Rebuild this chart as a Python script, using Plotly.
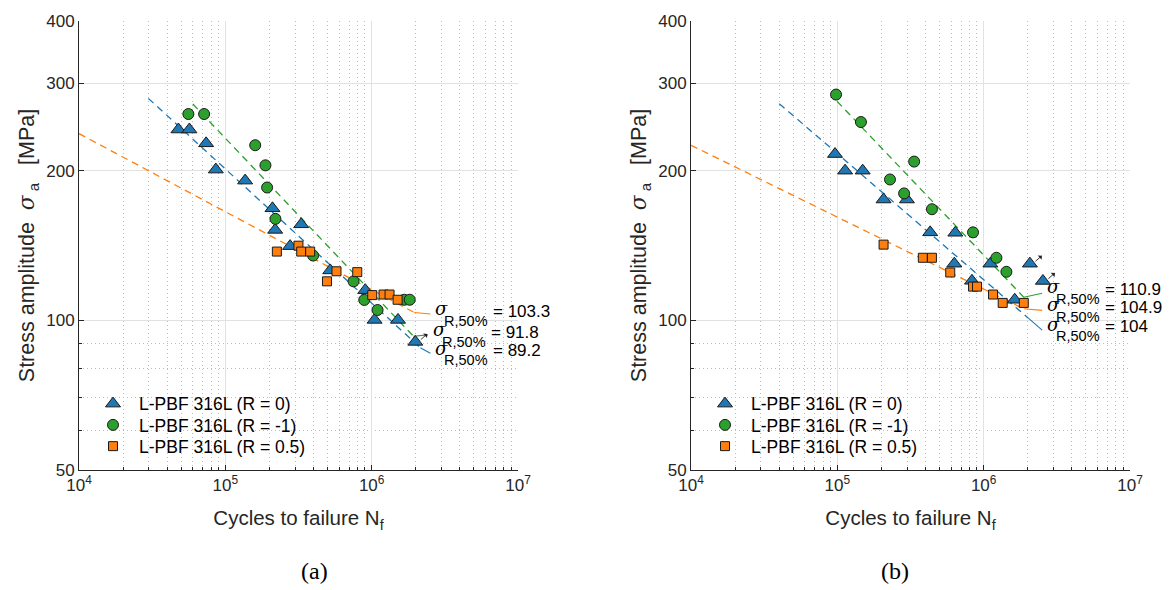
import numpy as np
import plotly.graph_objects as go

# ---------------- data: panel (a) ----------------
a_r0_N = [47.8e3, 56.8e3, 73.9e3, 86.1e3, 136.6e3, 210e3, 219e3, 330e3, 277e3, 521e3, 904e3, 1.047e6, 1.513e6, 1.987e6]
a_r0_S = [242, 242, 227, 201, 191, 168, 152, 156, 141, 126, 115, 100.2, 100.2, 90.5]
a_r0_runout = [False] * 13 + [True]

a_rm1_N = [55.9e3, 71.6e3, 160e3, 188e3, 193e3, 220e3, 398e3, 752e3, 890e3, 1.097e6, 1.67e6, 1.82e6]
a_rm1_S = [260, 260, 225, 205, 185, 160, 135, 119.8, 109.9, 104.9, 110, 110]

a_r05_N = [225e3, 316e3, 330e3, 380e3, 495e3, 575e3, 797e3, 1.009e6, 1.206e6, 1.325e6, 1.504e6]
a_r05_S = [137.5, 141.3, 137.5, 137.5, 119.8, 125.5, 125, 112.4, 112.7, 112.7, 110]

# fitted lines (start, end of dashed part, end of leader) : N and S
a_fit_r0_N = [29.8e3, 2.15e6, 2.52e6]
a_fit_r0_S = [279.5, 88.1, 85.9]
a_fit_rm1_N = [60e3, 1.93e6, 2.42e6]
a_fit_rm1_S = [272.3, 92.9, 93.5]
a_fit_r05_N = [1e4, 1.955e6, 2.52e6]
a_fit_r05_S = [237.4, 103.7, 103.0]
a_labels = ["89.2", "91.8", "103.3"]  # R=0, R=-1, R=0.5

# ---------------- data: panel (b) ----------------
b_r0_N = [96.4e3, 113e3, 149e3, 207e3, 299e3, 431e3, 640e3, 630e3, 1.111e6, 2.07e6, 832e3, 2.54e6, 1.63e6]
b_r0_S = [216, 200, 200, 175, 175, 150.3, 150, 130, 130, 130, 120.1, 120, 110]
b_r0_runout = [False] * 9 + [True, False, True, False]

b_rm1_N = [98e3, 145e3, 335e3, 229e3, 286e3, 443e3, 846e3, 1.222e6, 1.43e6]
b_rm1_S = [284.5, 250.5, 208.6, 192, 180, 167.3, 150.3, 133.6, 125.2]

b_r05_N = [207e3, 384e3, 443e3, 591e3, 846e3, 901e3, 1.159e6, 1.349e6, 1.88e6]
b_r05_S = [142, 133.6, 133.6, 124.8, 116.9, 116.9, 112.7, 108.4, 108.4]

b_fit_r0_N = [40.1e3, 2.02e6, 2.51e6]
b_fit_r0_S = [272.8, 101.0, 95.6]
b_fit_rm1_N = [99.5e3, 1.88e6, 2.51e6]
b_fit_rm1_S = [275.8, 111.3, 113.4]
b_fit_r05_N = [1e4, 1.88e6, 2.51e6]
b_fit_r05_S = [225.0, 105.5, 104.7]
b_labels = ["104", "110.9", "104.9"]

series_names = ["L-PBF 316L (R = 0)", "L-PBF 316L (R = -1)", "L-PBF 316L (R = 0.5)"]
x_tickvals = [1e4, 1e5, 1e6, 1e7]
x_ticktext = ["10<sup>4</sup>", "10<sup>5</sup>", "10<sup>6</sup>", "10<sup>7</sup>"]
y_tickvals = [50, 100, 200, 300, 400]
y_minor = [60, 70, 80, 90]
x_minor = [m * 10 ** e for e in (4, 5, 6) for m in range(2, 10)]

# ---------------- styling ----------------
BLUE, GREEN, ORANGE = "#1f77b4", "#2ca02c", "#ff7f0e"
FONT = "Liberation Sans, Arial, sans-serif"
SERIF_IT = "DejaVu Serif, serif"
TXT = "#262626"
GRID = "#e2e2e2"
MINOR = "#bdbdbd"
SIG = "<span style=\"font-family:'DejaVu Serif';font-style:italic\">σ</span>"
NB = "\u00a0"

W, H = 1170, 590
L, R, T, B = 79, 40, 16, 120
pw = W - L - R
ph = H - T - B
dom1 = [0, 439 / pw]
dom2 = [(691 - L) / pw, 1]

fig = go.Figure()

panels = [
    dict(xa="x", ya="y", legs=["legend", "legend2", "legend3"], lx=113,
         data=[(a_r0_N, a_r0_S, "triangle-up", BLUE, 13),
               (a_rm1_N, a_rm1_S, "circle", GREEN, 11),
               (a_r05_N, a_r05_S, "square", ORANGE, 9)],
         fits=[(a_fit_r0_N, a_fit_r0_S, BLUE), (a_fit_rm1_N, a_fit_rm1_S, GREEN),
               (a_fit_r05_N, a_fit_r05_S, ORANGE)],
         labels=a_labels, runN=a_r0_N, runS=a_r0_S, runF=a_r0_runout, lab_dy=[0, 0, 0]),
    dict(xa="x2", ya="y2", legs=["legend4", "legend5", "legend6"], lx=725,
         data=[(b_r0_N, b_r0_S, "triangle-up", BLUE, 13),
               (b_rm1_N, b_rm1_S, "circle", GREEN, 11),
               (b_r05_N, b_r05_S, "square", ORANGE, 9)],
         fits=[(b_fit_r0_N, b_fit_r0_S, BLUE), (b_fit_rm1_N, b_fit_rm1_S, GREEN),
               (b_fit_r05_N, b_fit_r05_S, ORANGE)],
         labels=b_labels, runN=b_r0_N, runS=b_r0_S, runF=b_r0_runout, lab_dy=[1, 1.5, 0.5]),
]

legend_rows_px = [403, 424.5, 446]
legends = {}
annotations = []
for p in panels:
    for (fn, fs, col) in p["fits"]:
        fig.add_trace(go.Scatter(x=fn[:2], y=fs[:2], mode="lines", xaxis=p["xa"], yaxis=p["ya"],
                                 line=dict(color=col, width=1.3, dash="7px,5px"),
                                 showlegend=False, hoverinfo="skip"))
        fig.add_trace(go.Scatter(x=fn[1:], y=fs[1:], mode="lines", xaxis=p["xa"], yaxis=p["ya"],
                                 line=dict(color=col, width=1.1),
                                 showlegend=False, hoverinfo="skip"))
    for (n, s, sym, col, sz), name, lg, rowpx in zip(p["data"], series_names, p["legs"], legend_rows_px):
        fig.add_trace(go.Scatter(x=n, y=s, mode="markers", name=name, xaxis=p["xa"], yaxis=p["ya"],
                                 legend=lg,
                                 marker=dict(symbol=sym, color=col, size=sz,
                                             line=dict(color="#1a1a1a", width=1))))
        legends[lg] = dict(x=(p["lx"] - 26 - L) / pw, y=(H - B - rowpx) / ph,
                           xanchor="left", yanchor="middle", itemwidth=42,
                           bgcolor="rgba(255,255,255,0)",
                           font=dict(family=FONT, size=17.5, color="#000"))
    for (fn, fs, col), lab, dy in zip(p["fits"], p["labels"], p["lab_dy"]):
        base = dict(x=np.log10(fn[-1]), y=np.log10(fs[-1]), xref=p["xa"], yref=p["ya"],
                    showarrow=False, xanchor="left", yanchor="middle")
        annotations.append(dict(base, text="<i>σ</i>", xshift=3, yshift=5 + dy,
                                font=dict(family=SERIF_IT, size=18, color="#000")))
        annotations.append(dict(base, text="R,50%", xshift=12, yshift=-7 + dy,
                                font=dict(family=FONT, size=14.5, color="#000")))
        annotations.append(dict(base, text="= " + lab, xshift=61, yshift=2.5 + dy,
                                font=dict(family=FONT, size=17, color="#000")))
    for n, s, f in zip(p["runN"], p["runS"], p["runF"]):
        if f:
            annotations.append(dict(
                x=np.log10(n), y=np.log10(s), xref=p["xa"], yref=p["ya"], text="",
                showarrow=True, arrowhead=1, arrowsize=1.1, arrowwidth=0.9, arrowcolor="#222222",
                ax=-8, ay=7, xshift=12, yshift=8, standoff=0, startstandoff=0))

yt_title = "Stress amplitude" + NB + NB + SIG + "<sub>" + NB + "a</sub>" + NB + NB + NB + "[MPa]"
xt_title = "Cycles to failure N<sub>f</sub>"

axis_common = dict(type="log", showline=True, linecolor="#262626", linewidth=1,
                   ticks="inside", ticklen=5, tickcolor="#262626",
                   tickfont=dict(family=FONT, size=17, color=TXT),
                   showgrid=True, gridcolor=GRID, gridwidth=1, zeroline=False, mirror=False)

xa = dict(axis_common, range=[4, 7], tickvals=x_tickvals, ticktext=x_ticktext,
          minor=dict(tickvals=x_minor, showgrid=True, gridcolor=MINOR, griddash="1px,3px",
                     ticks="inside", ticklen=3, tickcolor="#262626"),
          title=dict(text=xt_title, font=dict(family=FONT, size=20.5, color=TXT), standoff=16))
ya = dict(axis_common, range=[np.log10(50), np.log10(400)], tickvals=y_tickvals,
          ticktext=[str(v) for v in y_tickvals],
          minor=dict(tickvals=y_minor, showgrid=True, gridcolor=MINOR, griddash="1px,3px",
                     ticks="inside", ticklen=3, tickcolor="#262626"),
          title=dict(text=yt_title, font=dict(family=FONT, size=21.5, color=TXT), standoff=5))

fig.update_layout(
    width=W, height=H, margin=dict(l=L, r=R, t=T, b=B),
    paper_bgcolor="white", plot_bgcolor="white",
    xaxis=dict(xa, domain=dom1, anchor="y"),
    yaxis=dict(ya, domain=[0, 1], anchor="x"),
    xaxis2=dict(xa, domain=dom2, anchor="y2"),
    yaxis2=dict(ya, domain=[0, 1], anchor="x2"),
    annotations=annotations + [
        dict(text="(a)", x=dom1[0] + (dom1[1] - dom1[0]) / 2, y=(H - B - 572) / ph,
             xref="paper", yref="paper", showarrow=False, yanchor="middle",
             font=dict(family="Liberation Serif, serif", size=24, color="#000")),
        dict(text="(b)", x=dom2[0] + (dom2[1] - dom2[0]) / 2, y=(H - B - 572) / ph,
             xref="paper", yref="paper", showarrow=False, yanchor="middle",
             font=dict(family="Liberation Serif, serif", size=24, color="#000")),
    ],
    showlegend=True,
    **legends,
)

fig.write_html("out.html")
